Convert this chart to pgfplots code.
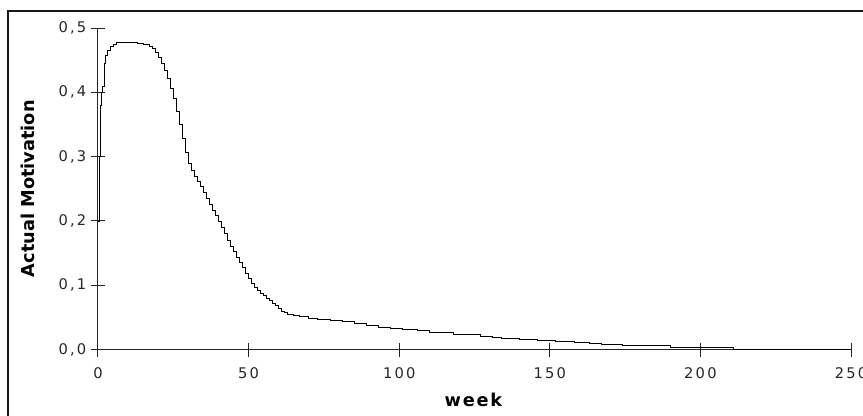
\documentclass[border=0pt]{standalone}
\usepackage{fontspec}
\setmainfont{DejaVu Sans}
\newfontfamily\tickfont[LetterSpace=15]{DejaVu Sans}
\newfontfamily\labfont[LetterSpace=10]{DejaVu Sans}
\usepackage{pgfplots}
\pgfplotsset{compat=1.18}

\pgfplotstableread{
x y
0 0.200
0.3 0.300
0.7 0.380
1.0 0.400
1.5 0.410
2.0 0.445
2.5 0.458
3 0.465
4 0.471
5 0.474
6 0.477
8 0.478
12 0.478
13 0.476
15 0.475
16 0.474
17 0.472
18 0.468
19 0.462
20 0.455
21 0.445
22 0.434
23 0.421
24 0.406
25 0.390
26 0.370
27 0.350
28 0.328
29 0.306
30 0.290
31 0.279
32 0.270
33 0.262
34 0.253
35 0.244
36 0.235
37 0.226
38 0.217
39 0.208
40 0.199
41 0.190
42 0.180
43 0.170
44 0.161
45 0.152
46 0.143
47 0.135
48 0.127
49 0.119
50 0.111
51 0.103
52 0.097
53 0.092
54 0.088
55 0.084
56 0.080
57 0.076
58 0.072
59 0.068
60 0.064
61 0.060
62 0.057
63 0.055
65 0.053
67 0.051
70 0.049
73 0.047
77 0.045
81 0.043
85 0.040
89 0.037
93 0.035
97 0.033
101 0.031
106 0.029
110 0.027
114 0.026
118 0.024
122 0.023
127 0.021
131 0.019
134 0.017
140 0.016
146 0.014
152 0.012
158 0.011
163 0.010
167 0.008
174 0.006
190 0.003
211 0.000
250 0.000
}\motivation

\begin{document}
\begin{tikzpicture}[x=0.75pt,y=0.75pt]
\useasboundingbox (0,0) rectangle (863,415);
\draw[line width=1.8pt, color=black!90] (8,-20) -- (8,404) -- (890,404);
\begin{axis}[
    at={(73.5pt,49.125pt)}, anchor=south west,
    scale only axis,
    width=564.75pt, height=241.1pt,
    xmin=0, xmax=250, ymin=0, ymax=0.5,
    axis lines=left,
    axis line style={-, line width=0.75pt, black!85},
    xtick={0,50,...,250},
    ytick={0,0.1,0.2,0.3,0.4,0.5},
    tick align=center,
    major tick length=10.5pt,
    tick style={line width=0.75pt, black!85},
    /pgf/number format/assume math mode=true,
    yticklabel style={/pgf/number format/.cd, fixed, fixed zerofill, precision=1, use comma},
    xticklabel style={yshift=-4.5pt},
    ticklabel style={font=\fontsize{11}{13}\selectfont\tickfont, text=black!85},
    xlabel={\textbf{week}},
    ylabel={\textbf{Actual Motivation}},
    xlabel style={font=\fontsize{13.3}{15}\selectfont\labfont, at={(axis description cs:0.5,-0.178)}, anchor=base},
    ylabel style={font=\fontsize{13.3}{15}\selectfont, at={(axis description cs:-0.0926,0.5)}, anchor=center, rotate=0},
    clip=false,
]
\addplot[const plot, black, line width=0.6pt] table[x=x, y=y] {\motivation};
\end{axis}
\end{tikzpicture}
\end{document}
